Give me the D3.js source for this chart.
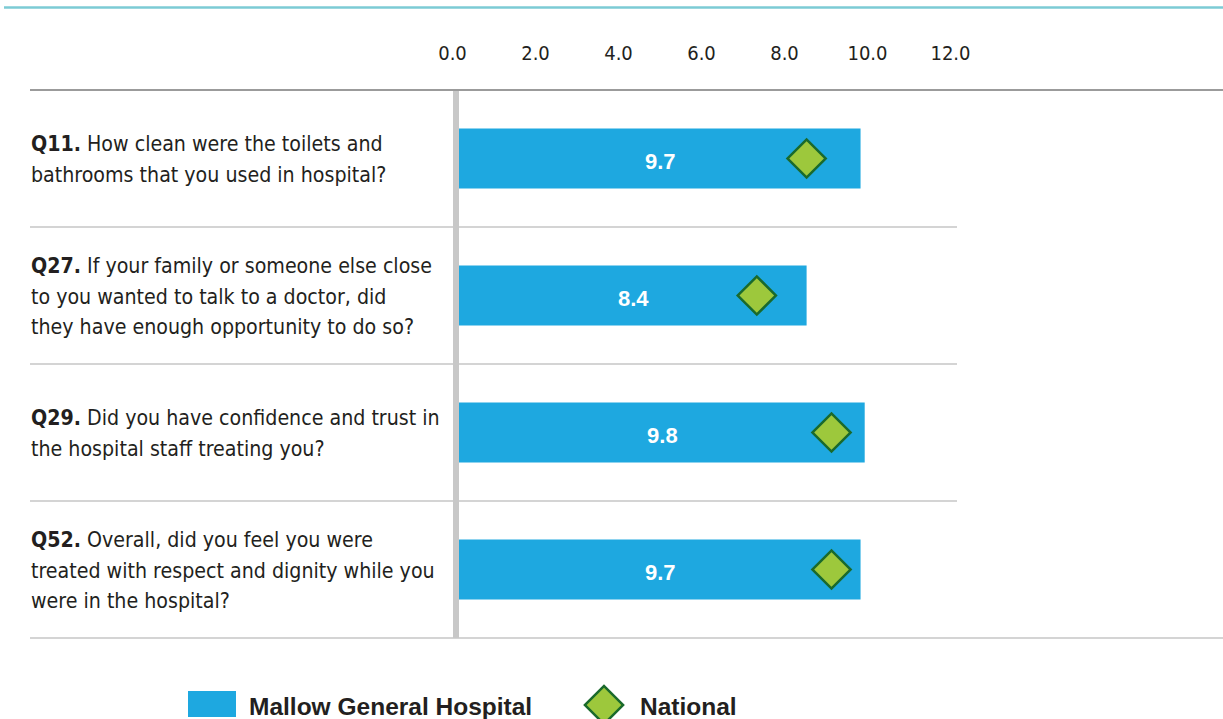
<!DOCTYPE html>
<html>
<head>
<meta charset="utf-8">
<script src="https://cdn.jsdelivr.net/npm/d3@7"></script>
<style>
  html, body { margin: 0; padding: 0; background: #ffffff; }
  svg { display: block; }
  .cond { font-family: "Liberation Sans Narrow", "DejaVu Sans Condensed", "Roboto", sans-serif; }
  .bold { font-family: "Liberation Sans", Arial, sans-serif; font-weight: bold; }
</style>
</head>
<body>
<svg id="chart" width="1223" height="719"></svg>
<script>
// Question codes and their wrapped wording
const questionCodes = ["Q11.", "Q27.", "Q29.", "Q52."];
const questionLines = [
  ["How clean were the toilets and", "bathrooms that you used in hospital?"],
  ["If your family or someone else close", "to you wanted to talk to a doctor, did", "they have enough opportunity to do so?"],
  ["Did you have confidence and trust in", "the hospital staff treating you?"],
  ["Overall, did you feel you were", "treated with respect and dignity while you", "were in the hospital?"]
];
// Scores (0-10)
const hospitalScores = [9.7, 8.4, 9.8, 9.7];
const nationalScores = [8.4, 7.2, 9.0, 9.0];
const tickValues = [0, 2, 4, 6, 8, 10, 12];
const seriesNames = ["Mallow General Hospital", "National"];

const colors = {
  bar: "#1ea8e0",
  diamondFill: "#9dc83c",
  diamondStroke: "#1a6a2c",
  text: "#231f20",
  teal: "#7ccbd5",
  header: "#9b9b9b",
  sep: "#d4d4d4",
  axis: "#c8c8c8"
};

const svg = d3.select("#chart");

// Scales
const x = d3.scaleLinear().domain([0, 12]).range([458, 956]);
const y = d3.scaleBand().domain(questionCodes).range([90, 638]).padding(0);
const barH = 60;

// Top rule
svg.append("line")
  .attr("x1", 4).attr("x2", 1223).attr("y1", 7.5).attr("y2", 7.5)
  .attr("stroke", colors.teal).attr("stroke-width", 2.5);

// Value axis along the top
const axis = d3.axisTop(x).tickValues(tickValues).tickFormat(d3.format(".1f")).tickSize(0);
const axisG = svg.append("g").attr("class", "cond").attr("transform", "translate(0,63)").call(axis);
axisG.select(".domain").remove();
axisG.selectAll("text")
  .attr("dx", -6).attr("dy", 0)
  .attr("fill", colors.text)
  .style("font-size", "20px")
  .style("font-family", "inherit");

// Row separators
svg.append("line")
  .attr("x1", 30).attr("x2", 1223).attr("y1", y.range()[0]).attr("y2", y.range()[0])
  .attr("stroke", colors.header).attr("stroke-width", 2);
questionCodes.forEach((q, i) => {
  const yy = y(q) + y.step();
  const last = i === questionCodes.length - 1;
  svg.append("line")
    .attr("x1", 30).attr("x2", last ? 1223 : 957)
    .attr("y1", yy).attr("y2", yy)
    .attr("stroke", colors.sep).attr("stroke-width", 2);
});

// Bars
const rows = svg.append("g").selectAll("g").data(questionCodes).join("g");
rows.append("rect")
  .attr("x", x(0))
  .attr("y", q => y(q) + (y.step() - barH) / 2)
  .attr("width", (q, i) => x(hospitalScores[i]) - x(0))
  .attr("height", barH)
  .attr("fill", colors.bar);

// Bar value labels
rows.append("text")
  .attr("class", "bold")
  .attr("x", (q, i) => (x(0) + x(hospitalScores[i])) / 2 + 1)
  .attr("y", q => y(q) + y.step() / 2 + 10)
  .attr("text-anchor", "middle")
  .attr("fill", "#ffffff")
  .style("font-size", "22px")
  .text((q, i) => d3.format(".1f")(hospitalScores[i]));

// National diamonds
const diamond = d3.symbol().type(d3.symbolSquare).size(27 * 27);
rows.append("path")
  .attr("d", diamond)
  .attr("transform", (q, i) => `translate(${x(nationalScores[i])},${y(q) + y.step() / 2}) rotate(45)`)
  .attr("fill", colors.diamondFill)
  .attr("stroke", colors.diamondStroke)
  .attr("stroke-width", 2.5);

// Zero axis bar
svg.append("line")
  .attr("x1", x(0) - 2).attr("x2", x(0) - 2)
  .attr("y1", 91).attr("y2", 638)
  .attr("stroke", colors.axis).attr("stroke-width", 6);

// Question labels
const lineGap = 30.5;
rows.each(function (q, i) {
  const lines = questionLines[i];
  const cy = y(q) + y.step() / 2;
  const first = cy - (lines.length - 1) * lineGap / 2 + 8;
  const t = d3.select(this).append("text")
    .attr("class", "cond")
    .attr("fill", colors.text)
    .style("font-size", "21.2px");
  lines.forEach((ln, j) => {
    const ts = t.append("tspan").attr("x", 31).attr("y", first + j * lineGap);
    if (j === 0) {
      ts.append("tspan").attr("font-weight", "bold").text(q);
      ts.append("tspan").text(" " + ln);
    } else {
      ts.text(ln);
    }
  });
});

// Legend
const legend = svg.append("g");
legend.append("rect")
  .attr("x", 188).attr("y", 691).attr("width", 48).attr("height", 26)
  .attr("fill", colors.bar);
legend.append("text")
  .attr("class", "bold")
  .attr("x", 249).attr("y", 715)
  .attr("fill", colors.text)
  .style("font-size", "24.5px")
  .text(seriesNames[0]);
legend.append("path")
  .attr("d", diamond)
  .attr("transform", "translate(604,705) rotate(45)")
  .attr("fill", colors.diamondFill)
  .attr("stroke", colors.diamondStroke)
  .attr("stroke-width", 2.5);
legend.append("text")
  .attr("class", "bold")
  .attr("x", 640).attr("y", 715)
  .attr("fill", colors.text)
  .style("font-size", "24.5px")
  .text(seriesNames[1]);
</script>
</body>
</html>
